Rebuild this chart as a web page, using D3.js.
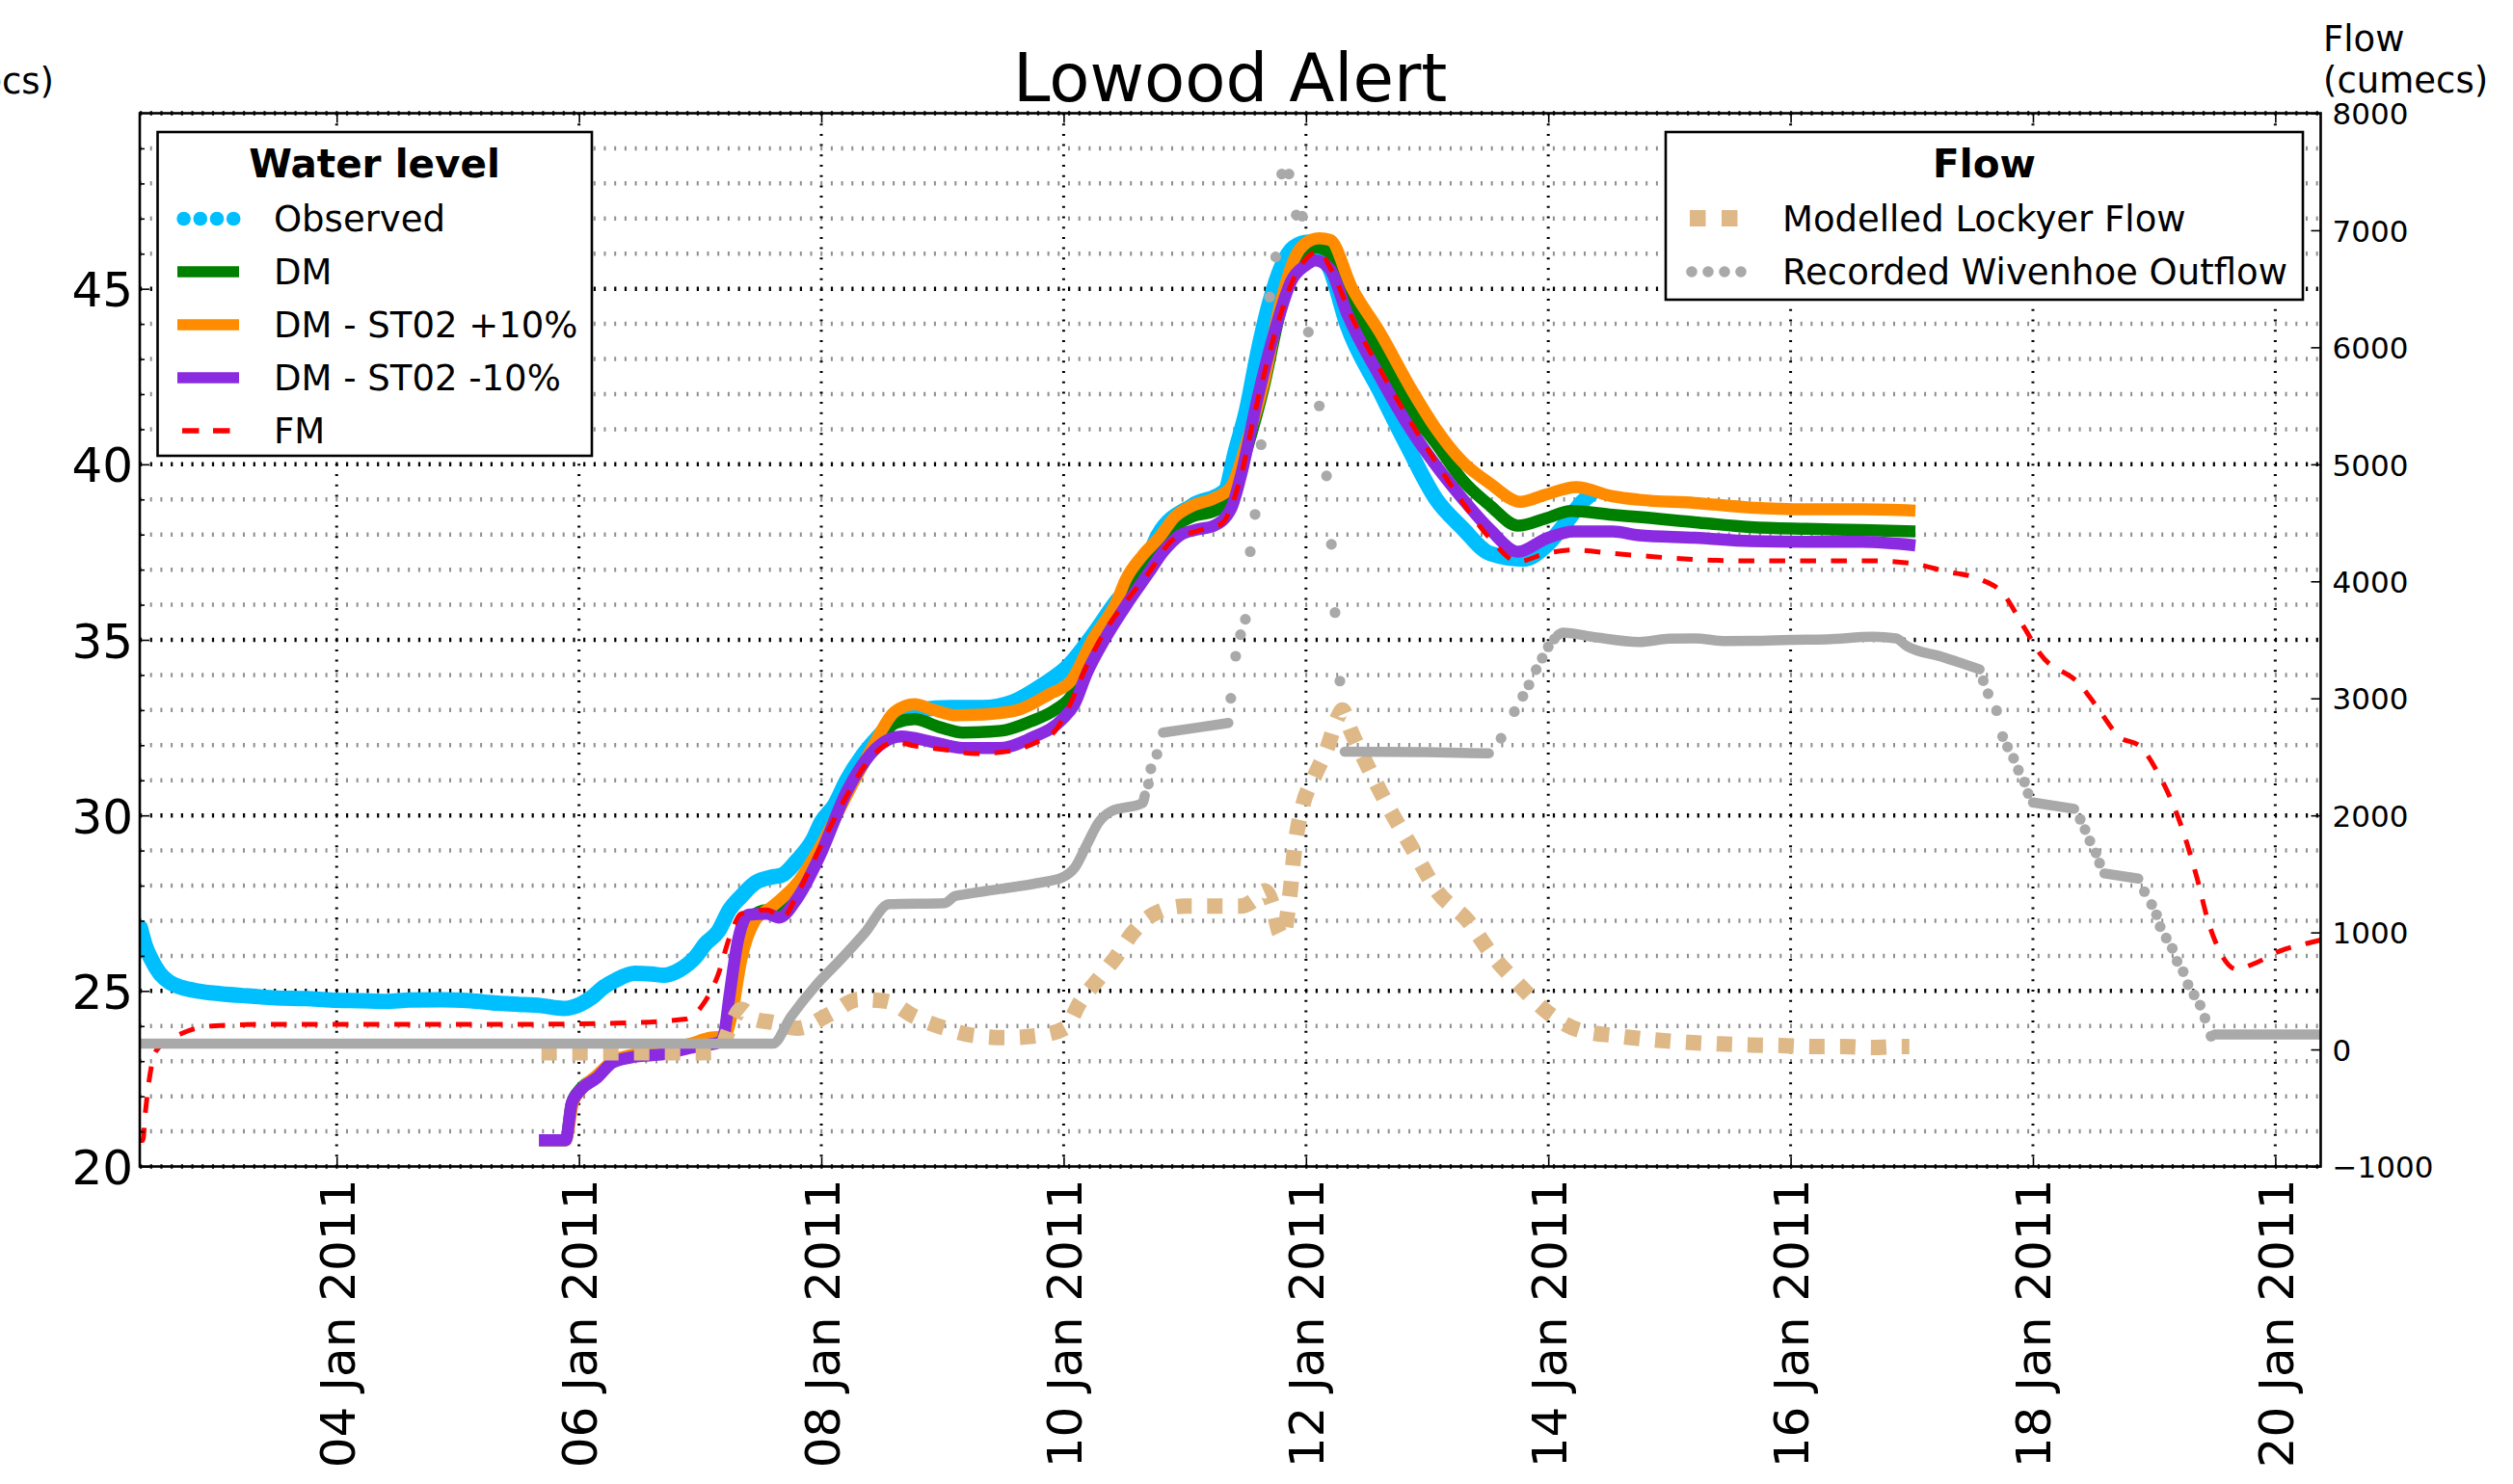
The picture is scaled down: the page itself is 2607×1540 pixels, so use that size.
<!DOCTYPE html>
<html>
<head>
<meta charset="utf-8">
<script src="https://cdn.jsdelivr.net/npm/d3@7"></script>
<style>
  html, body { margin: 0; padding: 0; background: #fff; }
  svg { display: block; font-family: "DejaVu Sans", sans-serif; }
</style>
</head>
<body>
<svg id="chart" width="2607" height="1540"></svg>
<script>
// ---------------- DATA (day = day-of-month, January 2011) ----------------
const dateTickDays = [4, 6, 8, 10, 12, 14, 16, 18, 20];
const levelMajorTicks = [20, 25, 30, 35, 40, 45];
const levelMinorTicks = [21,22,23,24,26,27,28,29,31,32,33,34,36,37,38,39,41,42,43,44,46,47,48,49];
const flowTicks = [-1000, 0, 1000, 2000, 3000, 4000, 5000, 6000, 7000, 8000];

const observed = [[2.38,26.8],[2.42,26.3],[2.47,25.9],[2.54,25.5],[2.62,25.25],[2.72,25.1],[2.85,25.0],[3.04,24.92],[3.3,24.85],[3.5,24.8],[3.75,24.78],[3.95,24.74],[4.2,24.72],[4.41,24.7],[4.6,24.74],[4.87,24.75],[5.1,24.72],[5.33,24.65],[5.5,24.62],[5.69,24.58],[5.87,24.5],[6.01,24.62],[6.1,24.8],[6.2,25.1],[6.3,25.3],[6.46,25.5],[6.6,25.48],[6.7,25.45],[6.83,25.6],[6.97,26.0],[7.04,26.33],[7.15,26.7],[7.24,27.3],[7.34,27.7],[7.45,28.07],[7.6,28.25],[7.67,28.29],[7.8,28.72],[7.93,29.3],[8.0,29.81],[8.11,30.3],[8.21,31.0],[8.34,31.7],[8.46,32.2],[8.66,32.85],[8.82,33.01],[9.07,33.07],[9.33,33.07],[9.58,33.23],[9.83,33.72],[10.04,34.26],[10.24,35.13],[10.44,36.11],[10.65,36.9],[10.78,37.98],[11.06,38.82],[11.33,39.24],[11.42,40.4],[11.51,41.55],[11.6,43.13],[11.7,44.6],[11.83,45.86],[11.9,46.18],[12.02,46.33],[12.11,46.07],[12.2,45.55],[12.34,43.97],[12.61,42.08],[12.84,40.5],[13.07,39.03],[13.29,38.19],[13.52,37.46],[13.8,37.3],[13.98,37.67],[14.16,38.4],[14.28,38.93],[14.35,39.14]];

const dm = [[5.67,20.75],[5.89,20.75],[5.94,21.8],[6.01,22.2],[6.15,22.55],[6.28,22.98],[6.47,23.15],[6.7,23.25],[6.92,23.42],[7.09,23.6],[7.2,23.7],[7.25,24.6],[7.33,26.2],[7.42,27.1],[7.55,27.3],[7.65,27.3],[7.8,27.85],[8.0,29.05],[8.21,30.62],[8.41,31.8],[8.61,32.63],[8.77,32.74],[8.97,32.52],[9.17,32.36],[9.48,32.41],[9.73,32.68],[9.93,33.01],[10.06,33.39],[10.19,34.37],[10.39,35.67],[10.6,36.9],[10.8,37.7],[10.95,38.3],[11.06,38.51],[11.24,38.67],[11.38,38.98],[11.51,40.4],[11.65,42.18],[11.79,44.39],[11.92,45.76],[12.08,46.18],[12.2,46.02],[12.38,44.6],[12.61,43.13],[12.84,41.66],[13.07,40.61],[13.29,39.56],[13.52,38.82],[13.75,38.25],[13.98,38.46],[14.19,38.67],[14.53,38.56],[14.75,38.5],[15.21,38.35],[15.67,38.21],[16.13,38.16],[16.59,38.13],[17.03,38.09]];

const dmPlus10 = [[5.67,20.75],[5.89,20.75],[5.95,21.8],[6.02,22.2],[6.15,22.6],[6.28,23.0],[6.47,23.2],[6.7,23.3],[6.92,23.5],[7.09,23.67],[7.2,23.7],[7.26,24.3],[7.34,25.9],[7.45,26.98],[7.6,27.42],[7.8,28.07],[8.0,29.16],[8.21,30.57],[8.41,31.87],[8.61,32.96],[8.77,33.17],[8.92,33.01],[9.12,32.85],[9.43,32.9],[9.63,33.01],[9.88,33.45],[10.06,33.83],[10.24,35.02],[10.44,36.11],[10.51,36.7],[10.65,37.4],[10.78,37.88],[10.92,38.51],[11.06,38.82],[11.24,39.03],[11.38,39.35],[11.51,40.61],[11.65,42.29],[11.79,44.6],[11.92,45.97],[12.05,46.4],[12.11,46.44],[12.2,46.39],[12.38,45.02],[12.61,43.76],[12.88,42.08],[13.07,41.03],[13.29,40.08],[13.52,39.45],[13.77,38.93],[13.98,39.14],[14.23,39.35],[14.53,39.09],[14.75,38.99],[15.21,38.9],[15.67,38.77],[16.13,38.72],[16.59,38.72],[17.03,38.68]];

const dmMinus10 = [[5.67,20.75],[5.89,20.75],[5.94,21.8],[6.01,22.17],[6.15,22.53],[6.28,22.97],[6.47,23.13],[6.7,23.2],[6.92,23.38],[7.04,23.45],[7.17,23.56],[7.2,23.8],[7.24,24.81],[7.31,26.4],[7.4,27.17],[7.55,27.2],[7.65,27.09],[7.8,27.63],[8.0,28.94],[8.21,30.68],[8.41,31.76],[8.66,32.25],[8.92,32.09],[9.17,31.92],[9.48,31.92],[9.73,32.2],[9.99,32.74],[10.09,33.17],[10.19,34.04],[10.34,35.02],[10.54,36.11],[10.7,36.9],[10.82,37.5],[10.96,37.98],[11.1,38.14],[11.24,38.25],[11.38,38.72],[11.47,39.77],[11.6,41.87],[11.74,43.76],[11.88,45.23],[11.99,45.65],[12.08,45.81],[12.2,45.55],[12.34,44.29],[12.61,42.5],[12.84,41.13],[13.07,39.98],[13.29,39.03],[13.52,38.14],[13.75,37.51],[13.98,37.88],[14.21,38.09],[14.53,38.09],[14.75,37.98],[15.21,37.91],[15.67,37.81],[16.13,37.79],[16.59,37.79],[17.03,37.69]];

const fm = [[2.375,20.74],[2.4,20.74],[2.42,21.5],[2.45,22.4],[2.49,23.13],[2.54,23.42],[2.72,23.79],[3.0,24.01],[3.5,24.05],[4.5,24.05],[5.5,24.05],[6.3,24.08],[6.88,24.2],[7.02,24.6],[7.15,25.48],[7.24,26.5],[7.34,27.2],[7.55,27.31],[7.68,27.09],[7.8,27.74],[8.0,29.16],[8.21,30.57],[8.41,31.65],[8.61,32.09],[8.77,31.98],[9.02,31.87],[9.27,31.76],[9.53,31.82],[9.78,32.09],[9.93,32.41],[10.04,33.07],[10.19,34.26],[10.34,35.24],[10.54,36.2],[10.7,36.9],[10.9,37.85],[11.1,38.1],[11.3,38.3],[11.45,39.5],[11.6,41.8],[11.75,43.8],[11.9,45.3],[12.05,46.0],[12.11,46.07],[12.2,45.6],[12.38,44.18],[12.61,42.71],[12.84,41.34],[13.07,40.08],[13.29,38.93],[13.52,37.88],[13.75,37.23],[13.98,37.46],[14.21,37.56],[14.53,37.46],[14.75,37.4],[15.21,37.29],[15.67,37.25],[16.13,37.25],[16.68,37.25],[17.0,37.18],[17.28,36.95],[17.56,36.73],[17.74,36.37],[17.93,35.34],[18.06,34.6],[18.39,33.72],[18.52,33.13],[18.71,32.25],[18.89,31.95],[19.03,31.22],[19.22,29.74],[19.35,28.27],[19.45,26.94],[19.54,26.14],[19.68,25.62],[19.82,25.77],[20.04,26.14],[20.27,26.36],[20.375,26.45]];

const lockyerFlow = [[5.69,-28],[6.0,-28],[6.5,-28],[7.0,-28],[7.15,-25],[7.25,200],[7.34,345],[7.45,260],[7.6,231],[7.8,182],[8.06,296],[8.31,427],[8.54,411],[8.77,280],[9.02,182],[9.27,117],[9.53,101],[9.78,117],[10.01,182],[10.14,411],[10.29,606],[10.44,802],[10.57,997],[10.75,1160],[11.0,1225],[11.25,1225],[11.46,1225],[11.6,1300],[11.66,1356],[11.72,1250],[11.78,1000],[11.81,965],[11.86,1258],[11.91,1747],[11.97,2073],[12.07,2333],[12.17,2561],[12.27,2855],[12.3,2900],[12.37,2724],[12.52,2398],[12.68,2073],[12.88,1714],[13.08,1356],[13.34,1095],[13.54,802],[13.74,573],[14.0,313],[14.25,166],[14.56,117],[14.91,78],[15.16,60],[15.42,47],[15.67,38],[15.92,34],[16.18,25],[16.41,25],[16.68,16],[16.91,25],[16.98,25]];

// Recorded Wivenhoe outflow: dense (merged) stretches and isolated hourly points
const wivenhoeRuns = [
  [[2.375,50],[7.6,50],[7.75,280],[7.95,541],[8.16,769],[8.36,997],[8.56,1242],[9.02,1251],[9.1,1310],[9.17,1323],[9.48,1372],[9.78,1421],[9.99,1470],[10.09,1551],[10.19,1747],[10.29,1942],[10.39,2034],[10.65,2105],[10.67,2170]],
  [[10.82,2708],[11.1,2750],[11.36,2790]],
  [[12.32,2545],[13.0,2540],[13.51,2530]],
  [[14.08,3540],[14.12,3562],[14.4,3520],[14.75,3482],[15.0,3510],[15.21,3513],[15.45,3490],[15.67,3491],[16.0,3500],[16.3,3505],[16.68,3526],[16.87,3513],[16.96,3446],[17.24,3358],[17.56,3248]],
  [[18.0,2110],[18.34,2056]],
  [[18.59,1504],[18.87,1460]],
  [[19.5,128],[20.375,128]]
];
const wivenhoeDots = [[10.7,2268],[10.72,2398],[10.77,2522],[11.38,3001],[11.42,3360],[11.46,3544],[11.5,3676],[11.54,4254],[11.58,4572],[11.63,5168],[11.7,6430],[11.75,6772],[11.8,7480],[11.86,7480],[11.92,7130],[11.97,7120],[12.02,6130],[12.11,5499],[12.17,4901],[12.21,4316],[12.24,3733],[12.28,3148],[13.61,2659],[13.72,2887],[13.79,3018],[13.84,3115],[13.9,3246],[13.95,3344],[14.0,3441],[14.05,3507],[17.59,3151],[17.63,3040],[17.7,2895],[17.75,2674],[17.79,2585],[17.84,2488],[17.88,2387],[17.93,2285],[17.96,2188],[18.39,1967],[18.43,1879],[18.47,1782],[18.52,1680],[18.55,1592],[18.92,1349],[18.98,1239],[19.02,1151],[19.05,1049],[19.1,952],[19.15,864],[19.19,753],[19.24,665],[19.28,554],[19.33,466],[19.38,378],[19.42,268],[19.47,113]];

const levelLegend = ["Observed", "DM", "DM - ST02 +10%", "DM - ST02 -10%", "FM"];
const flowLegend = ["Modelled Lockyer Flow", "Recorded Wivenhoe Outflow"];

// ---------------- LAYOUT ----------------
const L = 145, R = 2407.5, T = 117.5, B = 1210.5;
const FONT = "DejaVu Sans";
const dayToDate = d => new Date(Date.UTC(2011, 0, 1) + (d - 1) * 86400000);

const x = d3.scaleUtc().domain([dayToDate(2.375), dayToDate(20.375)]).range([L, R]);
const yL = d3.scaleLinear().domain([20, 50]).range([B, T]);
const yR = d3.scaleLinear().domain([-1000, 8000]).range([B, T]);

const svg = d3.select("#chart");
svg.append("rect").attr("width", 2607).attr("height", 1540).attr("fill", "#fff");

svg.append("clipPath").attr("id", "clip").append("rect")
  .attr("x", L).attr("y", T).attr("width", R - L).attr("height", B - T);

// ---------------- GRID ----------------
const grid = svg.append("g");
grid.selectAll("line.minor").data(levelMinorTicks).join("line")
  .attr("x1", L).attr("x2", R).attr("y1", d => yL(d)).attr("y2", d => yL(d))
  .attr("stroke", "#8f8f8f").attr("stroke-width", 4.5).attr("stroke-dasharray", "2,8.7");
grid.selectAll("line.major").data(levelMajorTicks.concat([50])).join("line")
  .attr("x1", L).attr("x2", R).attr("y1", d => yL(d)).attr("y2", d => yL(d))
  .attr("stroke", "#000").attr("stroke-width", 4.5).attr("stroke-dasharray", "2.2,8.5");
grid.selectAll("line.vert").data(dateTickDays).join("line")
  .attr("x1", d => x(dayToDate(d))).attr("x2", d => x(dayToDate(d)))
  .attr("y1", T).attr("y2", B)
  .attr("stroke", "#000").attr("stroke-width", 3).attr("stroke-dasharray", "2,8.7");

// ---------------- SERIES ----------------
const plot = svg.append("g").attr("clip-path", "url(#clip)");
const lineL = d3.line().curve(d3.curveMonotoneX).x(d => x(dayToDate(d[0]))).y(d => yL(d[1]));
const lineR = d3.line().curve(d3.curveMonotoneX).x(d => x(dayToDate(d[0]))).y(d => yR(d[1]));

plot.append("path").datum(observed).attr("d", lineL)
  .attr("fill", "none").attr("stroke", "#00BFFF").attr("stroke-width", 16)
  .attr("stroke-linecap", "round").attr("stroke-linejoin", "round");
plot.append("path").datum(dm).attr("d", lineL)
  .attr("fill", "none").attr("stroke", "#008000").attr("stroke-width", 12.5).attr("stroke-linejoin", "round");
plot.append("path").datum(dmPlus10).attr("d", lineL)
  .attr("fill", "none").attr("stroke", "#FF8C00").attr("stroke-width", 12.5).attr("stroke-linejoin", "round");
plot.append("path").datum(dmMinus10).attr("d", lineL)
  .attr("fill", "none").attr("stroke", "#8A2BE2").attr("stroke-width", 12.5).attr("stroke-linejoin", "round");
plot.append("path").datum(fm).attr("d", lineL)
  .attr("fill", "none").attr("stroke", "#FF0000").attr("stroke-width", 5)
  .attr("stroke-dasharray", "16.5,15.5");

plot.append("path").datum(lockyerFlow).attr("d", lineR)
  .attr("fill", "none").attr("stroke", "#DEB887").attr("stroke-width", 16)
  .attr("stroke-dasharray", "16,16");
plot.selectAll("path.wrun").data(wivenhoeRuns).join("path")
  .attr("d", lineR).attr("fill", "none").attr("stroke", "#A9A9A9").attr("stroke-width", 10.5)
  .attr("stroke-linecap", "round").attr("stroke-linejoin", "round");
plot.selectAll("circle.wdot").data(wivenhoeDots).join("circle")
  .attr("cx", d => x(dayToDate(d[0]))).attr("cy", d => yR(d[1])).attr("r", 5.6)
  .attr("fill", "#A9A9A9");

// ---------------- AXES ----------------
const styleAxis = g => {
  g.select(".domain").remove();
  g.selectAll(".tick line").attr("stroke", "#000").attr("stroke-width", 1.6);
  g.selectAll("text").attr("font-family", FONT).attr("fill", "#000");
};

svg.append("g").attr("transform", `translate(${L},0)`)
  .call(d3.axisLeft(yL).tickValues(levelMinorTicks).tickSizeInner(-5).tickSizeOuter(0).tickFormat(""))
  .call(styleAxis);
svg.append("g").attr("transform", `translate(${L},0)`)
  .call(d3.axisLeft(yL).tickValues(levelMajorTicks).tickSizeInner(-10).tickSizeOuter(0).tickPadding(7).tickFormat(d3.format("d")))
  .call(styleAxis)
  .call(g => g.selectAll("text").attr("font-size", 50).attr("dy", "0.36em"));

svg.append("g").attr("transform", `translate(${R},0)`)
  .call(d3.axisRight(yR).tickValues(flowTicks).tickSizeInner(-10).tickSizeOuter(0).tickPadding(12)
    .tickFormat(d => d < 0 ? "\u2212" + Math.abs(d) : String(d)))
  .call(styleAxis)
  .call(g => g.selectAll("text").attr("font-size", 31).attr("dy", "0.36em"));

svg.append("g").attr("transform", `translate(0,${B})`)
  .call(d3.axisBottom(x).tickValues(dateTickDays.map(dayToDate)).tickSizeInner(-10).tickSizeOuter(0)
    .tickFormat(d3.utcFormat("%d %b %Y")))
  .call(styleAxis)
  .call(g => g.selectAll("text").attr("font-size", 50)
    .attr("transform", "rotate(-90)").attr("x", -13).attr("y", 0).attr("dy", "0.36em")
    .attr("text-anchor", "end"));

svg.append("g").attr("transform", `translate(0,${T})`)
  .call(d3.axisTop(x).tickValues(dateTickDays.map(dayToDate)).tickSizeInner(-10).tickSizeOuter(0).tickFormat(""))
  .call(styleAxis);

svg.append("rect").attr("x", L).attr("y", T).attr("width", R - L).attr("height", B - T)
  .attr("fill", "none").attr("stroke", "#000").attr("stroke-width", 2.6);

// ---------------- TITLES ----------------
svg.append("text").attr("x", (L + R) / 2).attr("y", 105).attr("text-anchor", "middle")
  .attr("font-family", FONT).attr("font-size", 69).text("Lowood Alert");
svg.append("text").attr("x", 2410).attr("y", 53).attr("font-family", FONT).attr("font-size", 37).text("Flow");
svg.append("text").attr("x", 2410).attr("y", 96).attr("font-family", FONT).attr("font-size", 37).text("(cumecs)");
svg.append("text").attr("x", 56).attr("y", 97).attr("text-anchor", "end")
  .attr("font-family", FONT).attr("font-size", 37).text("(cumecs)");

// ---------------- LEGENDS ----------------
const lg1 = svg.append("g");
lg1.append("rect").attr("x", 163.5).attr("y", 137).attr("width", 450.5).attr("height", 336)
  .attr("fill", "#fff").attr("stroke", "#000").attr("stroke-width", 2.6);
lg1.append("text").attr("x", 388.5).attr("y", 184).attr("text-anchor", "middle")
  .attr("font-family", FONT).attr("font-size", 40.5).attr("font-weight", "bold").text("Water level");
const rowY1 = i => 227 + i * 55;
lg1.selectAll("text.item").data(levelLegend).join("text")
  .attr("x", 284).attr("y", (d, i) => rowY1(i) + 13)
  .attr("font-family", FONT).attr("font-size", 37).text(d => d);
lg1.selectAll("circle.obs").data([190.6, 207.8, 225, 242.2]).join("circle")
  .attr("cx", d => d).attr("cy", rowY1(0)).attr("r", 7.3).attr("fill", "#00BFFF");
[["#008000", 1], ["#FF8C00", 2], ["#8A2BE2", 3]].forEach(([c, i]) => {
  lg1.append("line").attr("x1", 184).attr("x2", 248).attr("y1", rowY1(i)).attr("y2", rowY1(i))
    .attr("stroke", c).attr("stroke-width", 11.5);
});
lg1.append("line").attr("x1", 189).attr("x2", 239).attr("y1", rowY1(4)).attr("y2", rowY1(4))
  .attr("stroke", "#FF0000").attr("stroke-width", 5.5).attr("stroke-dasharray", "17.5,14.5");

const lg2 = svg.append("g");
lg2.append("rect").attr("x", 1728).attr("y", 137).attr("width", 661).attr("height", 174)
  .attr("fill", "#fff").attr("stroke", "#000").attr("stroke-width", 2.6);
lg2.append("text").attr("x", 2058.5).attr("y", 184).attr("text-anchor", "middle")
  .attr("font-family", FONT).attr("font-size", 40.5).attr("font-weight", "bold").text("Flow");
lg2.selectAll("text.item").data(flowLegend).join("text")
  .attr("x", 1849).attr("y", (d, i) => 240 + i * 55)
  .attr("font-family", FONT).attr("font-size", 37).text(d => d);
lg2.append("line").attr("x1", 1753).attr("x2", 1803).attr("y1", 226.5).attr("y2", 226.5)
  .attr("stroke", "#DEB887").attr("stroke-width", 17).attr("stroke-dasharray", "16.5,16.5");
lg2.selectAll("circle.wiv").data([1755, 1772, 1789, 1806]).join("circle")
  .attr("cx", d => d).attr("cy", 282).attr("r", 5.8).attr("fill", "#A9A9A9");
</script>
</body>
</html>
